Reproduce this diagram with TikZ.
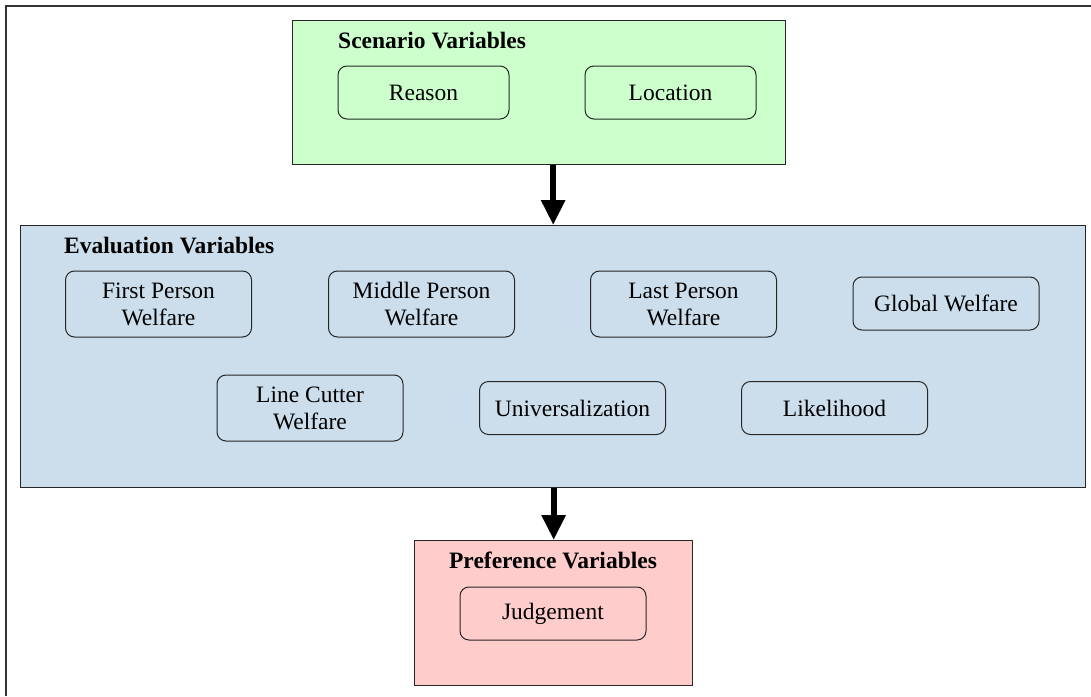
\documentclass[tikz,border=0pt]{standalone}
\usepackage{fontspec}
\setmainfont{Liberation Serif}
\usetikzlibrary{arrows.meta}
\definecolor{scengreen}{RGB}{204,255,204}
\definecolor{evalblue}{RGB}{204,222,236}
\definecolor{prefpink}{RGB}{255,204,204}
\tikzset{
  container/.style={draw=black!85, line width=1.3pt, inner sep=0pt, anchor=north west},
  varbox/.style={draw=black!85, line width=1pt, rounded corners=9pt, align=center,
    inner sep=0pt, font=\fontsize{23.5}{27}\selectfont, minimum width=186pt},
  title/.style={font=\fontsize{23.5}{27}\selectfont\bfseries, inner sep=0pt},
  bigarrow/.style={line width=6pt, -{Triangle[width=23pt,length=25pt]}, black}
}
\begin{document}
\begin{tikzpicture}[x=1pt,y=-1pt]
\useasboundingbox (0,0) rectangle (1091,696);
\fill[white] (0,0) rectangle (1091,696);
% outer frame (left and top)
\draw[line width=2pt, black!80] (6,696) -- (6,6) -- (1091,6);
% containers
\node[container, fill=scengreen, minimum width=493pt, minimum height=144pt] (scen) at (292,20) {};
\node[container, fill=evalblue, minimum width=1065pt, minimum height=262pt] (eval) at (20,225) {};
\node[container, fill=prefpink, minimum width=278pt, minimum height=145pt] (pref) at (414,540) {};
% titles
\node[title, anchor=west] (scent) at (338,41) {Scenario Variables};
\node[title, anchor=west] (evalt) at (64,246) {Evaluation Variables};
\node[title] (preft) at (553,560) {Preference Variables};
% scenario variables
\node[varbox, minimum width=171pt, minimum height=53pt] (reason) at (423.5,92.5) {Reason};
\node[varbox, minimum width=171pt, minimum height=53pt] (location) at (670.5,92.5) {Location};
% evaluation variables
\node[varbox, minimum height=66pt] (first) at (158.5,304) {First Person\\Welfare};
\node[varbox, minimum height=66pt] (middle) at (421.5,304) {Middle Person\\Welfare};
\node[varbox, minimum height=66pt] (last) at (683.5,304) {Last Person\\Welfare};
\node[varbox, minimum height=53pt] (global) at (946,303.5) {Global Welfare};
\node[varbox, minimum height=66pt] (cutter) at (310,408) {Line Cutter\\Welfare};
\node[varbox, minimum height=53pt] (univ) at (572.5,408) {Universalization};
\node[varbox, minimum height=53pt] (likely) at (834.5,408) {Likelihood};
% preference variables
\node[varbox, minimum height=53pt] (judge) at (553,613.5) {Judgement};
% arrows
\draw[bigarrow] (eval.north |- scen.south) -- (eval.north);
\draw[bigarrow] (eval.south -| pref.north) -- (pref.north);
\end{tikzpicture}
\end{document}
